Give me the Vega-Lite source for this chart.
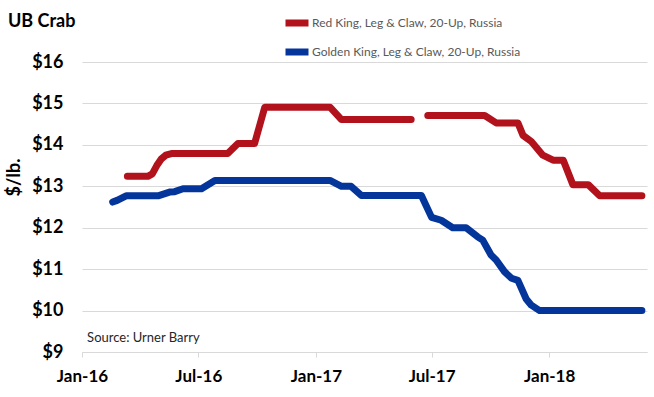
{
  "$schema": "https://vega.github.io/schema/vega-lite/v6.json",
  "width": 565,
  "height": 290,
  "autosize": "none",
  "padding": {"left": 82, "top": 62, "right": 7, "bottom": 45},
  "background": "white",
  "title": {
    "text": "UB Crab",
    "anchor": "start",
    "frame": "group",
    "dx": -74,
    "dy": 41,
    "offset": 0,
    "baseline": "bottom",
    "font": "Lato",
    "fontSize": 18,
    "fontWeight": "bold",
    "color": "#000000"
  },
  "config": {
    "view": {"stroke": null},
    "font": "Lato"
  },
  "datasets": {
    "prices": [
      {"series": "Red King, Leg & Claw, 20-Up, Russia", "seg": "r1", "date": "2016-03-12", "price": 13.24},
      {"series": "Red King, Leg & Claw, 20-Up, Russia", "seg": "r1", "date": "2016-03-25", "price": 13.24},
      {"series": "Red King, Leg & Claw, 20-Up, Russia", "seg": "r1", "date": "2016-04-13", "price": 13.24},
      {"series": "Red King, Leg & Claw, 20-Up, Russia", "seg": "r1", "date": "2016-04-20", "price": 13.30},
      {"series": "Red King, Leg & Claw, 20-Up, Russia", "seg": "r1", "date": "2016-04-27", "price": 13.50},
      {"series": "Red King, Leg & Claw, 20-Up, Russia", "seg": "r1", "date": "2016-05-04", "price": 13.66},
      {"series": "Red King, Leg & Claw, 20-Up, Russia", "seg": "r1", "date": "2016-05-11", "price": 13.75},
      {"series": "Red King, Leg & Claw, 20-Up, Russia", "seg": "r1", "date": "2016-05-20", "price": 13.79},
      {"series": "Red King, Leg & Claw, 20-Up, Russia", "seg": "r1", "date": "2016-06-24", "price": 13.79},
      {"series": "Red King, Leg & Claw, 20-Up, Russia", "seg": "r1", "date": "2016-08-16", "price": 13.79},
      {"series": "Red King, Leg & Claw, 20-Up, Russia", "seg": "r1", "date": "2016-09-01", "price": 14.03},
      {"series": "Red King, Leg & Claw, 20-Up, Russia", "seg": "r1", "date": "2016-09-27", "price": 14.03},
      {"series": "Red King, Leg & Claw, 20-Up, Russia", "seg": "r1", "date": "2016-10-13", "price": 14.91},
      {"series": "Red King, Leg & Claw, 20-Up, Russia", "seg": "r1", "date": "2016-12-02", "price": 14.91},
      {"series": "Red King, Leg & Claw, 20-Up, Russia", "seg": "r1", "date": "2017-01-23", "price": 14.91},
      {"series": "Red King, Leg & Claw, 20-Up, Russia", "seg": "r1", "date": "2017-02-10", "price": 14.61},
      {"series": "Red King, Leg & Claw, 20-Up, Russia", "seg": "r1", "date": "2017-04-07", "price": 14.61},
      {"series": "Red King, Leg & Claw, 20-Up, Russia", "seg": "r1", "date": "2017-05-30", "price": 14.61},
      {"series": "Red King, Leg & Claw, 20-Up, Russia", "seg": "r2", "date": "2017-06-25", "price": 14.71},
      {"series": "Red King, Leg & Claw, 20-Up, Russia", "seg": "r2", "date": "2017-08-11", "price": 14.71},
      {"series": "Red King, Leg & Claw, 20-Up, Russia", "seg": "r2", "date": "2017-09-22", "price": 14.71},
      {"series": "Red King, Leg & Claw, 20-Up, Russia", "seg": "r2", "date": "2017-10-10", "price": 14.53},
      {"series": "Red King, Leg & Claw, 20-Up, Russia", "seg": "r2", "date": "2017-11-13", "price": 14.53},
      {"series": "Red King, Leg & Claw, 20-Up, Russia", "seg": "r2", "date": "2017-11-21", "price": 14.23},
      {"series": "Red King, Leg & Claw, 20-Up, Russia", "seg": "r2", "date": "2017-12-04", "price": 14.08},
      {"series": "Red King, Leg & Claw, 20-Up, Russia", "seg": "r2", "date": "2017-12-22", "price": 13.75},
      {"series": "Red King, Leg & Claw, 20-Up, Russia", "seg": "r2", "date": "2018-01-07", "price": 13.63},
      {"series": "Red King, Leg & Claw, 20-Up, Russia", "seg": "r2", "date": "2018-01-23", "price": 13.63},
      {"series": "Red King, Leg & Claw, 20-Up, Russia", "seg": "r2", "date": "2018-02-07", "price": 13.04},
      {"series": "Red King, Leg & Claw, 20-Up, Russia", "seg": "r2", "date": "2018-03-03", "price": 13.04},
      {"series": "Red King, Leg & Claw, 20-Up, Russia", "seg": "r2", "date": "2018-03-21", "price": 12.77},
      {"series": "Red King, Leg & Claw, 20-Up, Russia", "seg": "r2", "date": "2018-04-20", "price": 12.77},
      {"series": "Red King, Leg & Claw, 20-Up, Russia", "seg": "r2", "date": "2018-05-26", "price": 12.77},
      {"series": "Golden King, Leg & Claw, 20-Up, Russia", "seg": "g1", "date": "2016-02-18", "price": 12.62},
      {"series": "Golden King, Leg & Claw, 20-Up, Russia", "seg": "g1", "date": "2016-02-25", "price": 12.66},
      {"series": "Golden King, Leg & Claw, 20-Up, Russia", "seg": "g1", "date": "2016-03-10", "price": 12.77},
      {"series": "Golden King, Leg & Claw, 20-Up, Russia", "seg": "g1", "date": "2016-04-29", "price": 12.77},
      {"series": "Golden King, Leg & Claw, 20-Up, Russia", "seg": "g1", "date": "2016-05-17", "price": 12.86},
      {"series": "Golden King, Leg & Claw, 20-Up, Russia", "seg": "g1", "date": "2016-05-25", "price": 12.87},
      {"series": "Golden King, Leg & Claw, 20-Up, Russia", "seg": "g1", "date": "2016-06-07", "price": 12.94},
      {"series": "Golden King, Leg & Claw, 20-Up, Russia", "seg": "g1", "date": "2016-07-06", "price": 12.94},
      {"series": "Golden King, Leg & Claw, 20-Up, Russia", "seg": "g1", "date": "2016-07-27", "price": 13.14},
      {"series": "Golden King, Leg & Claw, 20-Up, Russia", "seg": "g1", "date": "2016-10-14", "price": 13.14},
      {"series": "Golden King, Leg & Claw, 20-Up, Russia", "seg": "g1", "date": "2017-01-23", "price": 13.14},
      {"series": "Golden King, Leg & Claw, 20-Up, Russia", "seg": "g1", "date": "2017-02-10", "price": 13.00},
      {"series": "Golden King, Leg & Claw, 20-Up, Russia", "seg": "g1", "date": "2017-02-25", "price": 13.00},
      {"series": "Golden King, Leg & Claw, 20-Up, Russia", "seg": "g1", "date": "2017-03-13", "price": 12.78},
      {"series": "Golden King, Leg & Claw, 20-Up, Russia", "seg": "g1", "date": "2017-04-28", "price": 12.78},
      {"series": "Golden King, Leg & Claw, 20-Up, Russia", "seg": "g1", "date": "2017-06-15", "price": 12.78},
      {"series": "Golden King, Leg & Claw, 20-Up, Russia", "seg": "g1", "date": "2017-07-01", "price": 12.25},
      {"series": "Golden King, Leg & Claw, 20-Up, Russia", "seg": "g1", "date": "2017-07-16", "price": 12.18},
      {"series": "Golden King, Leg & Claw, 20-Up, Russia", "seg": "g1", "date": "2017-08-03", "price": 12.00},
      {"series": "Golden King, Leg & Claw, 20-Up, Russia", "seg": "g1", "date": "2017-08-24", "price": 12.00},
      {"series": "Golden King, Leg & Claw, 20-Up, Russia", "seg": "g1", "date": "2017-09-11", "price": 11.78},
      {"series": "Golden King, Leg & Claw, 20-Up, Russia", "seg": "g1", "date": "2017-09-19", "price": 11.70},
      {"series": "Golden King, Leg & Claw, 20-Up, Russia", "seg": "g1", "date": "2017-10-02", "price": 11.34},
      {"series": "Golden King, Leg & Claw, 20-Up, Russia", "seg": "g1", "date": "2017-10-10", "price": 11.22},
      {"series": "Golden King, Leg & Claw, 20-Up, Russia", "seg": "g1", "date": "2017-10-23", "price": 10.94},
      {"series": "Golden King, Leg & Claw, 20-Up, Russia", "seg": "g1", "date": "2017-11-03", "price": 10.78},
      {"series": "Golden King, Leg & Claw, 20-Up, Russia", "seg": "g1", "date": "2017-11-13", "price": 10.73},
      {"series": "Golden King, Leg & Claw, 20-Up, Russia", "seg": "g1", "date": "2017-11-26", "price": 10.28},
      {"series": "Golden King, Leg & Claw, 20-Up, Russia", "seg": "g1", "date": "2017-12-04", "price": 10.13},
      {"series": "Golden King, Leg & Claw, 20-Up, Russia", "seg": "g1", "date": "2017-12-17", "price": 10.00},
      {"series": "Golden King, Leg & Claw, 20-Up, Russia", "seg": "g1", "date": "2018-03-02", "price": 10.00},
      {"series": "Golden King, Leg & Claw, 20-Up, Russia", "seg": "g1", "date": "2018-05-26", "price": 10.00}
    ],
    "note": [
      {"label": "Source: Urner Barry"}
    ]
  },
  "layer": [
    {
      "data": {"name": "prices"},
      "mark": {"type": "line", "strokeWidth": 7, "strokeCap": "round", "strokeJoin": "round"},
      "encoding": {
        "x": {
          "field": "date",
          "type": "temporal",
          "scale": {
            "type": "utc",
            "domain": [
              {"year": 2016, "month": 1, "date": 1, "utc": true},
              {"year": 2018, "month": 6, "date": 3, "utc": true}
            ]
          },
          "axis": {
            "title": null,
            "values": [
              {"year": 2016, "month": 1, "date": 1, "utc": true},
              {"year": 2016, "month": 7, "date": 1, "utc": true},
              {"year": 2017, "month": 1, "date": 1, "utc": true},
              {"year": 2017, "month": 7, "date": 1, "utc": true},
              {"year": 2018, "month": 1, "date": 1, "utc": true}
            ],
            "labelExpr": "utcFormat(datum.value, '%b-%y')",
            "grid": false,
            "domainColor": "#d9d9d9",
            "domainWidth": 1,
            "tickColor": "#d9d9d9",
            "tickSize": 5,
            "labelFont": "Lato",
            "labelFontSize": 17,
            "labelFontWeight": "bold",
            "labelColor": "#000000",
            "labelPadding": 11,
            "labelFlush": false,
            "labelOverlap": false
          }
        },
        "y": {
          "field": "price",
          "type": "quantitative",
          "scale": {"domain": [9, 16], "nice": false, "zero": false},
          "axis": {
            "title": "$/lb.",
            "titleFont": "Lato",
            "titleFontSize": 18,
            "titleFontWeight": "bold",
            "titleColor": "#000000",
            "titleAngle": 270,
            "titleAlign": "center",
            "titleBaseline": "alphabetic",
            "titleX": -63,
            "titleY": 115,
            "values": [9, 10, 11, 12, 13, 14, 15, 16],
            "labelExpr": "'$' + datum.value",
            "labelFont": "Lato",
            "labelFontSize": 18,
            "labelFontWeight": "bold",
            "labelColor": "#000000",
            "labelPadding": 19,
            "ticks": false,
            "domain": false,
            "grid": true,
            "gridColor": "#d9d9d9",
            "gridWidth": 1
          }
        },
        "color": {
          "field": "series",
          "type": "nominal",
          "scale": {
            "domain": ["Red King, Leg & Claw, 20-Up, Russia", "Golden King, Leg & Claw, 20-Up, Russia"],
            "range": ["#B2121C", "#04359A"]
          },
          "legend": {
            "title": null,
            "orient": "none",
            "legendX": 200,
            "legendY": -54,
            "symbolType": "stroke",
            "symbolSize": 529,
            "symbolStrokeWidth": 7,
            "labelFont": "Lato",
            "labelFontSize": 12,
            "labelColor": "#595959",
            "labelOffset": 0,
            "labelLimit": 400,
            "rowPadding": 0
          }
        },
        "detail": {"field": "seg", "type": "nominal"}
      }
    },
    {
      "data": {"name": "note"},
      "mark": {"type": "text", "align": "left", "baseline": "middle", "font": "Lato", "fontSize": 13, "color": "#262626"},
      "encoding": {
        "x": {"datum": {"year": 2016, "month": 1, "date": 9, "utc": true}, "type": "temporal"},
        "y": {"datum": 9.34, "type": "quantitative"},
        "text": {"field": "label"}
      }
    }
  ]
}
